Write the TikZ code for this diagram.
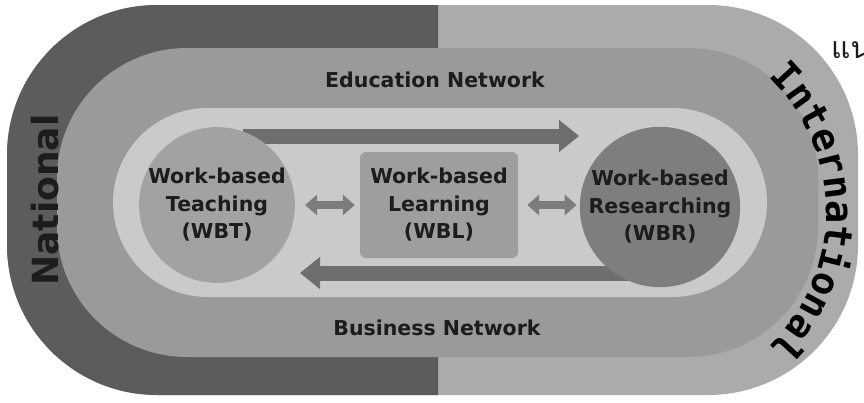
\documentclass[tikz,border=0pt]{standalone}
\usepackage{fontspec}
\setmainfont{DejaVu Sans}
\newfontfamily\intlfont{DejaVu Sans Mono}
\newfontfamily\thaifont[Script=Thai]{Loma}
\usetikzlibrary{arrows.meta,decorations.text,calc}
\definecolor{outerL}{HTML}{5C5C5C}
\definecolor{outerR}{HTML}{ABABAB}
\definecolor{midband}{HTML}{9A9A9A}
\definecolor{innerband}{HTML}{CACACA}
\definecolor{wbtc}{HTML}{A2A2A2}
\definecolor{wblc}{HTML}{9E9E9E}
\definecolor{wbrc}{HTML}{7E7E7E}
\definecolor{arrowc}{HTML}{6E6E6E}
\definecolor{dblc}{HTML}{7C7C7C}
\definecolor{ink}{HTML}{1C1C1C}
\newcommand\intlsty{\intlfont\bfseries\fontsize{38.5pt}{38.5pt}\selectfont}
\begin{document}
\begin{tikzpicture}[x=1pt,y=-1pt,
  lbl/.style={font=\bfseries\fontsize{20.5pt}{27.5pt}\selectfont, text=ink, align=center, inner sep=0pt},
  circ/.style={circle, lbl},
  boxnode/.style={rectangle, rounded corners=6pt, lbl},
  bigarrow/.style={draw=arrowc, line width=15pt, -{Triangle[width=31pt,length=20pt]}},
  dblarrow/.style={draw=dblc, line width=8pt, {Triangle[width=20pt,length=12pt]}-{Triangle[width=20pt,length=12pt]}}
]
\useasboundingbox (0,0) rectangle (864,402);
\fill[white] (0,0) rectangle (864,402);
% outer band
\fill[outerR, rounded corners=150pt] (7,5) rectangle (858,395);
\begin{scope}
  \clip (0,0) rectangle (438,402);
  \fill[outerL, rounded corners=150pt] (7,5) rectangle (858,395);
\end{scope}
% middle band
\fill[midband, rounded corners=130pt] (57,48) rectangle (818,357);
% inner band
\fill[innerband, rounded corners=94.5pt] (113,108) rectangle (767,297);
% big arrows
\coordinate (topS) at (243,136);
\coordinate (topE) at (579,136);
\coordinate (botS) at (640,273);
\coordinate (botE) at (300,273);
\draw[bigarrow] (topS) -- (topE);
\draw[bigarrow] (botS) -- (botE);
% nodes
\node[circ, fill=wbtc, minimum size=150pt] (wbt) at (217,205) {Work-based\\Teaching\\(WBT)};
\node[boxnode, fill=wblc, minimum width=158pt, minimum height=106pt] (wbl) at (439,205) {Work-based\\Learning\\(WBL)};
\node[circ, fill=wbrc, minimum size=160pt] (wbr) at (660,207) {Work-based\\Researching\\(WBR)};
\draw[dblarrow] ([xshift=10pt]wbt.east) -- ([xshift=-5pt]wbl.west);
\draw[dblarrow] ([xshift=9pt]wbl.east) -- ([xshift=-3pt]wbr.west |- wbl.east);
% labels
\node[lbl] (edu) at (435,80) {Education Network};
\node[lbl] (bus) at (437,328) {Business Network};
\node[lbl, font=\bfseries\fontsize{36pt}{36pt}\selectfont, rotate=90] (nat) at (45,200) {National};
\path[decorate, decoration={text along path, text={|\intlsty|International}, text align=center}]
  (639,212) ++(-70:187) arc[start angle=-70, end angle=70, radius=187];
\node[anchor=west, inner sep=0pt, text=ink, font=\thaifont\fontsize{30pt}{30pt}\selectfont] (th) at (831,50) {แน};
\end{tikzpicture}
\end{document}
